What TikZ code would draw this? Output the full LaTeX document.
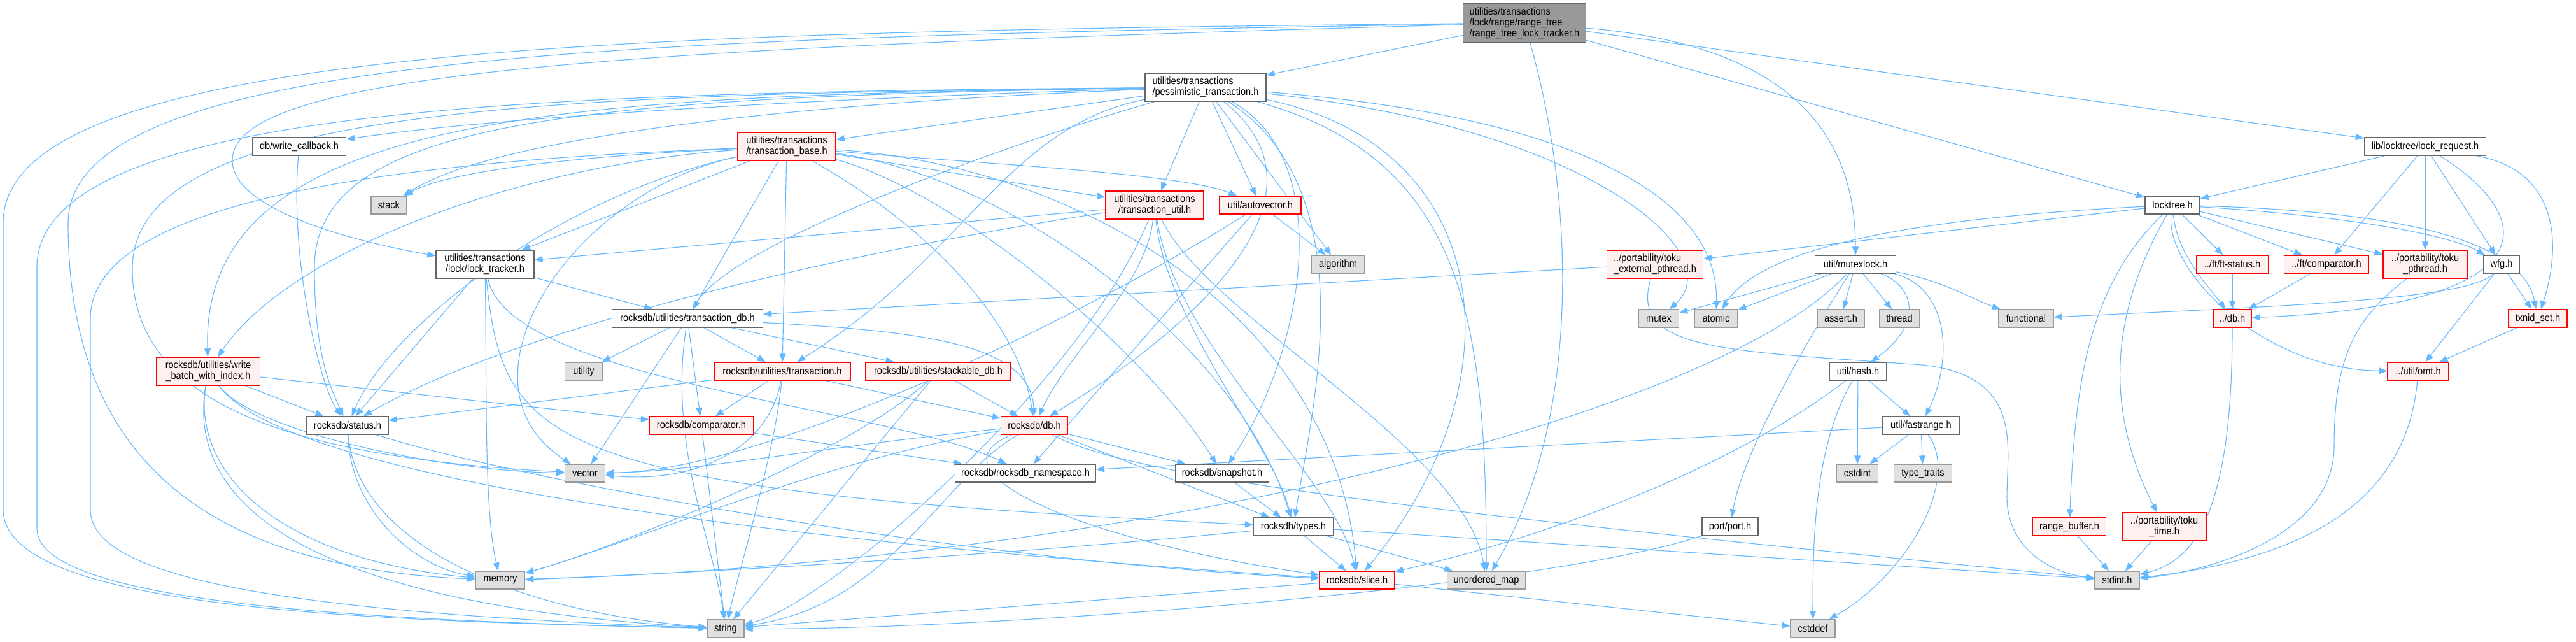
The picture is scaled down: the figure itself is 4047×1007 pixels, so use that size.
\documentclass[tikz,border=0pt]{standalone}
\usepackage{fontspec}
\setmainfont{Liberation Sans}[FakeStretch=0.9]
\usetikzlibrary{arrows.meta,backgrounds}
\definecolor{edgec}{HTML}{63B8FF}
\definecolor{redfill}{HTML}{FFF0F0}
\definecolor{grayfill}{HTML}{E0E0E0}
\definecolor{topfill}{HTML}{999999}
\tikzset{
  base/.style={draw, line width=1.3pt, inner sep=0pt, align=center, text=black,
    font=\fontsize{16.2}{17}\selectfont},
  nb/.style={base, draw=black!60, fill=white},
  rb/.style={base, draw=red, fill=redfill},
  gb/.style={base, draw=black!40, fill=grayfill},
  tb/.style={base, draw=black!60, fill=topfill},
  e/.style={draw=edgec, line width=1.1pt, -{Triangle[length=13pt,width=10pt]}},
}
\begin{document}
\begin{tikzpicture}[x=1pt,y=-1pt]
\useasboundingbox (0,0) rectangle (4047,1007);
% ---------------- nodes ----------------
\node[tb, align=left, minimum width=193, minimum height=62] (T) at (2395,36) {utilities/transactions\\/lock/range/range\_tree\\/range\_tree\_lock\_tracker.h};
\node[nb, align=left, minimum width=190, minimum height=44] (P) at (1894,137) {utilities/transactions\\/pessimistic\_transaction.h};
\node[nb, minimum width=147, minimum height=28] (WCB) at (470,230) {db/write\_callback.h};
\node[rb, minimum width=154, minimum height=44] (B) at (1236,230) {utilities/transactions\\/transaction\_base.h};
\node[nb, minimum width=191, minimum height=28] (LR) at (3810,230) {lib/locktree/lock\_request.h};
\node[gb, minimum width=56, minimum height=28] (STK) at (611,322) {stack};
\node[rb, minimum width=154, minimum height=44] (U) at (1814,322) {utilities/transactions\\/transaction\_util.h};
\node[rb, minimum width=128, minimum height=28] (AV) at (1980,322) {util/autovector.h};
\node[nb, minimum width=86, minimum height=28] (LT) at (3413,322) {locktree.h};
\node[nb, minimum width=154, minimum height=44] (L) at (762,415) {utilities/transactions\\/lock/lock\_tracker.h};
\node[gb, minimum width=84, minimum height=28] (ALG) at (2102,415) {algorithm};
\node[rb, align=left, minimum width=151, minimum height=44] (EP) at (2600,415) {../portability/toku\\\_external\_pthread.h};
\node[nb, minimum width=127, minimum height=28] (M) at (2915,415) {util/mutexlock.h};
\node[rb, minimum width=113, minimum height=28] (FS) at (3507,415) {../ft/ft-status.h};
\node[rb, minimum width=133, minimum height=28] (FC) at (3655,415) {../ft/comparator.h};
\node[rb, minimum width=132, minimum height=44] (TP) at (3810,415) {../portability/toku\\\_pthread.h};
\node[nb, minimum width=57, minimum height=28] (WFG) at (3930,415) {wfg.h};
\node[nb, minimum width=237, minimum height=28] (D) at (1080,500) {rocksdb/utilities/transaction\_db.h};
\node[gb, minimum width=63, minimum height=28] (MTX) at (2606,500) {mutex};
\node[gb, minimum width=67, minimum height=28] (ATM) at (2696,500) {atomic};
\node[gb, minimum width=74, minimum height=28] (AST) at (2892,500) {assert.h};
\node[gb, minimum width=63, minimum height=28] (THR) at (2984,500) {thread};
\node[gb, minimum width=86, minimum height=28] (FUN) at (3183,500) {functional};
\node[rb, minimum width=60, minimum height=28] (DBH) at (3507,500) {../db.h};
\node[rb, minimum width=92, minimum height=28] (TXN) at (3987,500) {txnid\_set.h};
\node[rb, minimum width=163, minimum height=44] (W) at (327,583) {rocksdb/utilities/write\\\_batch\_with\_index.h};
\node[gb, minimum width=59, minimum height=28] (UTY) at (917,583) {utility};
\node[rb, minimum width=214, minimum height=28] (TR) at (1229,583) {rocksdb/utilities/transaction.h};
\node[rb, minimum width=228, minimum height=28] (SDB) at (1474,583) {rocksdb/utilities/stackable\_db.h};
\node[nb, minimum width=89, minimum height=28] (H) at (2919,583) {util/hash.h};
\node[rb, minimum width=96, minimum height=28] (OMT) at (3799,583) {../util/omt.h};
\node[nb, minimum width=128, minimum height=28] (S) at (546,668) {rocksdb/status.h};
\node[rb, minimum width=163, minimum height=28] (CMP) at (1102,668) {rocksdb/comparator.h};
\node[rb, minimum width=105, minimum height=28] (DB) at (1625,668) {rocksdb/db.h};
\node[nb, minimum width=121, minimum height=28] (FR) at (3018,668) {util/fastrange.h};
\node[gb, minimum width=63, minimum height=28] (VEC) at (919,743) {vector};
\node[nb, minimum width=221, minimum height=28] (NS) at (1611,743) {rocksdb/rocksdb\_namespace.h};
\node[nb, minimum width=147, minimum height=28] (SNAP) at (1920,743) {rocksdb/snapshot.h};
\node[gb, minimum width=65, minimum height=28] (CI) at (2918,743) {cstdint};
\node[gb, minimum width=91, minimum height=28] (TTR) at (3021,743) {type\_traits};
\node[nb, minimum width=125, minimum height=28] (TY) at (2032,827) {rocksdb/types.h};
\node[nb, minimum width=88, minimum height=28] (PORT) at (2718,827) {port/port.h};
\node[rb, minimum width=115, minimum height=28] (RB) at (3251,827) {range\_buffer.h};
\node[rb, minimum width=132, minimum height=44] (TTIME) at (3400,827) {../portability/toku\\\_time.h};
\node[gb, minimum width=77, minimum height=28] (MEM) at (786,911) {memory};
\node[rb, minimum width=118, minimum height=28] (SL) at (2132,911) {rocksdb/slice.h};
\node[gb, minimum width=123, minimum height=28] (UM) at (2335,911) {unordered\_map};
\node[gb, minimum width=70, minimum height=28] (SI) at (3326,911) {stdint.h};
\node[gb, minimum width=58, minimum height=28] (STR) at (1140,987) {string};
\node[gb, minimum width=70, minimum height=28] (CD) at (2848,987) {cstddef};
% ---------------- edges ----------------
\begin{scope}[on background layer]
\fill[white] (0,0) rectangle (4047,1007);
% top node
\draw[e] (T) -- (P);
\draw[e] (T) .. controls (1000,75) and (370,110) .. (365,250) .. controls (362,330) and (560,380) .. (L);
\draw[e] (T) .. controls (1000,60) and (107,80) .. (107,350) .. controls (107,700) and (300,890) .. (MEM);
\draw[e] (T) .. controls (1000,50) and (5,70) .. (5,350) -- (5,800) .. controls (5,960) and (600,975) .. (STR);
\draw[e] (T) .. controls (2470,300) and (2490,650) .. (UM);
\draw[e] (T) .. controls (2800,70) and (2915,200) .. (M);
\draw[e] (T) -- (LT);
\draw[e] (T) -- (LR);
% pessimistic_transaction.h
\draw[e] (P) -- (B);
\draw[e] (P) -- (U);
\draw[e] (P) -- (AV);
\draw[e] (P) -- (ALG);
\draw[e] (P) .. controls (1400,150) and (800,180) .. (WCB);
\draw[e] (P) .. controls (1400,155) and (800,200) .. (STK);
\draw[e] (P) .. controls (900,150) and (315,170) .. (W);
\draw[e] (P) .. controls (900,148) and (210,160) .. (208,420) .. controls (206,650) and (500,720) .. (VEC);
\draw[e] (P) .. controls (900,145) and (58,160) .. (58,420) -- (58,830) .. controls (58,950) and (600,975) .. (STR);
\draw[e] (P) .. controls (900,152) and (494,190) .. (494,420) .. controls (494,560) and (520,610) .. (S);
\draw[e] (P) .. controls (1600,220) and (1150,380) .. (D);
\draw[e] (P) .. controls (2450,180) and (2700,300) .. (ATM);
\draw[e] (P) .. controls (2500,200) and (2720,400) .. (MTX);
\draw[e] (P) .. controls (2300,250) and (2335,500) .. (UM);
\draw[e] (P) .. controls (2350,230) and (2390,600) .. (SL);
\draw[e] (P) .. controls (2100,300) and (1900,500) .. (DB);
\draw[e] (P) .. controls (2100,250) and (2050,550) .. (SNAP);
\draw[e] (P) .. controls (2150,300) and (2060,650) .. (TY);
\draw[e] (P) .. controls (1580,200) and (1520,400) .. (TR);
% transaction_base.h
\draw[e] (B) .. controls (900,245) and (700,270) .. (STK);
\draw[e] (B) .. controls (800,260) and (450,400) .. (W);
\draw[e] (B) .. controls (700,250) and (142,300) .. (142,500) -- (142,800) .. controls (142,900) and (400,960) .. (STR);
\draw[e] (B) .. controls (900,300) and (700,600) .. (VEC);
\draw[e] (B) .. controls (900,300) and (620,500) .. (S);
\draw[e] (B) -- (L);
\draw[e] (B) -- (D);
\draw[e] (B) -- (TR);
\draw[e] (B) .. controls (1450,350) and (1600,500) .. (DB);
\draw[e] (B) .. controls (1500,300) and (1800,550) .. (SNAP);
\draw[e] (B) .. controls (1600,280) and (1950,550) .. (TY);
\draw[e] (B) .. controls (1700,260) and (2100,500) .. (SL);
\draw[e] (B) .. controls (1500,255) and (1850,270) .. (AV);
\draw[e] (B) -- (U);
% transaction_util.h
\draw[e] (U) -- (L);
\draw[e] (U) .. controls (1300,400) and (800,520) .. (S);
\draw[e] (U) .. controls (1800,450) and (1680,550) .. (DB);
\draw[e] (U) .. controls (1830,500) and (2000,700) .. (TY);
\draw[e] (U) .. controls (1850,550) and (2100,750) .. (SL);
\draw[e] (U) .. controls (1700,600) and (1300,950) .. (STR);
\draw[e] (U) .. controls (1900,500) and (2300,700) .. (UM);
% autovector
\draw[e] (AV) -- (ALG);
\draw[e] (AV) .. controls (1700,500) and (1200,740) .. (VEC);
\draw[e] (AV) -- (NS);
% write_callback
\draw[e] (WCB) .. controls (455,400) and (500,600) .. (S);
% lock_tracker
\draw[e] (L) .. controls (765,600) and (760,800) .. (MEM);
\draw[e] (L) -- (S);
\draw[e] (L) .. controls (790,700) and (850,770) .. (TY);
\draw[e] (L) -- (D);
\draw[e] (L) .. controls (800,600) and (1400,640) .. (NS);
% toku_external_pthread
\draw[e] (EP) -- (D);
\draw[e] (EP) .. controls (2560,550) and (2700,550) .. (3020,573) .. controls (3180,590) and (3153,700) .. (3153,780) .. controls (3153,860) and (3220,900) .. (SI);
% mutexlock
\draw[e] (M) -- (MTX);
\draw[e] (M) -- (ATM);
\draw[e] (M) -- (AST);
\draw[e] (M) -- (THR);
\draw[e] (M) .. controls (3050,440) and (3100,470) .. (FUN);
\draw[e] (M) .. controls (3010,450) and (3020,510) .. (H);
\draw[e] (M) .. controls (3060,450) and (3070,560) .. (FR);
\draw[e] (M) .. controls (2860,500) and (2740,700) .. (PORT);
\draw[e] (M) .. controls (2700,650) and (1800,880) .. (MEM);
% hash
\draw[e] (H) .. controls (2850,700) and (2848,850) .. (CD);
\draw[e] (H) -- (CI);
\draw[e] (H) -- (FR);
\draw[e] (H) .. controls (2700,750) and (2400,850) .. (SL);
% fastrange
\draw[e] (FR) .. controls (3080,750) and (3000,900) .. (CD);
\draw[e] (FR) -- (CI);
\draw[e] (FR) -- (TTR);
\draw[e] (FR) -- (NS);
% port
\draw[e] (PORT) .. controls (2400,930) and (1500,990) .. (STR);
% locktree
\draw[e] (LT) -- (EP);
\draw[e] (LT) .. controls (2950,345) and (2760,400) .. (ATM);
\draw[e] (LT) .. controls (3280,450) and (3260,600) .. (RB);
\draw[e] (LT) .. controls (3310,500) and (3310,650) .. (TTIME);
\draw[e] (LT) .. controls (3400,420) and (3550,580) .. (OMT);
\draw[e] (LT) .. controls (3420,400) and (3470,450) .. (DBH);
\draw[e] (LT) -- (FS);
\draw[e] (LT) -- (FC);
\draw[e] (LT) -- (TP);
\draw[e] (LT) .. controls (3700,340) and (3850,370) .. (WFG);
\draw[e] (LT) .. controls (3700,330) and (3960,360) .. (TXN);
% lock_request
\draw[e] (LR) -- (LT);
\draw[e] (LR) -- (FC);
\draw[e] (LR) -- (TP);
\draw[e] (LR) -- (WFG);
\draw[e] (LR) .. controls (4000,350) and (3990,480) .. (DBH);
\draw[e] (LR) .. controls (4030,270) and (4020,400) .. (TXN);
% wfg, txnid_set, omt etc
\draw[e] (WFG) .. controls (3880,470) and (3600,480) .. (FUN);
\draw[e] (WFG) -- (OMT);
\draw[e] (WFG) -- (TXN);
\draw[e] (TXN) -- (OMT);
\draw[e] (OMT) .. controls (3780,800) and (3600,880) .. (SI);
\draw[e] (DBH) .. controls (3507,800) and (3450,880) .. (SI);
\draw[e] (FS) -- (DBH);
\draw[e] (FC) -- (DBH);
\draw[e] (TP) .. controls (3700,500) and (3667,560) .. (3667,700) .. controls (3667,850) and (3450,900) .. (SI);
\draw[e] (TTIME) -- (SI);
\draw[e] (RB) -- (SI);
% transaction_db
\draw[e] (D) -- (TR);
\draw[e] (D) -- (SDB);
\draw[e] (D) -- (CMP);
\draw[e] (D) .. controls (1450,520) and (1620,540) .. (DB);
\draw[e] (D) .. controls (1050,700) and (1120,850) .. (STR);
\draw[e] (D) -- (UTY);
\draw[e] (D) -- (VEC);
% transaction.h
\draw[e] (TR) -- (CMP);
\draw[e] (TR) -- (DB);
\draw[e] (TR) .. controls (1220,700) and (1160,900) .. (STR);
\draw[e] (TR) -- (S);
\draw[e] (TR) .. controls (1210,700) and (1100,760) .. (VEC);
% stackable_db
\draw[e] (SDB) -- (DB);
\draw[e] (SDB) -- (STR);
\draw[e] (SDB) .. controls (1350,700) and (1000,850) .. (MEM);
% comparator
\draw[e] (CMP) -- (STR);
\draw[e] (CMP) -- (NS);
% db.h
\draw[e] (DB) -- (SNAP);
\draw[e] (DB) -- (TY);
\draw[e] (DB) .. controls (1480,750) and (1400,950) .. (STR);
\draw[e] (DB) .. controls (1300,700) and (1100,740) .. (VEC);
\draw[e] (DB) .. controls (1300,720) and (1000,850) .. (MEM);
\draw[e] (DB) .. controls (1780,750) and (2200,800) .. (SI);
\draw[e] (DB) .. controls (1450,740) and (1700,850) .. (SL);
% snapshot, types, slice
\draw[e] (SNAP) -- (TY);
\draw[e] (TY) -- (SL);
\draw[e] (TY) -- (UM);
\draw[e] (TY) -- (SI);
\draw[e] (TY) .. controls (1600,870) and (1100,900) .. (MEM);
\draw[e] (SL) -- (CD);
\draw[e] (SL) -- (STR);
% status
\draw[e] (S) .. controls (550,800) and (650,890) .. (MEM);
\draw[e] (S) .. controls (560,850) and (800,960) .. (STR);
\draw[e] (S) .. controls (800,750) and (1500,880) .. (SL);
% write_batch_with_index
\draw[e] (W) -- (S);
\draw[e] (W) .. controls (400,680) and (700,740) .. (VEC);
\draw[e] (W) .. controls (300,750) and (450,880) .. (MEM);
\draw[e] (W) .. controls (290,800) and (500,950) .. (STR);
\draw[e] (W) .. controls (450,750) and (1200,850) .. (SL);
\draw[e] (W) -- (CMP);
\end{scope}
\end{tikzpicture}
\end{document}
